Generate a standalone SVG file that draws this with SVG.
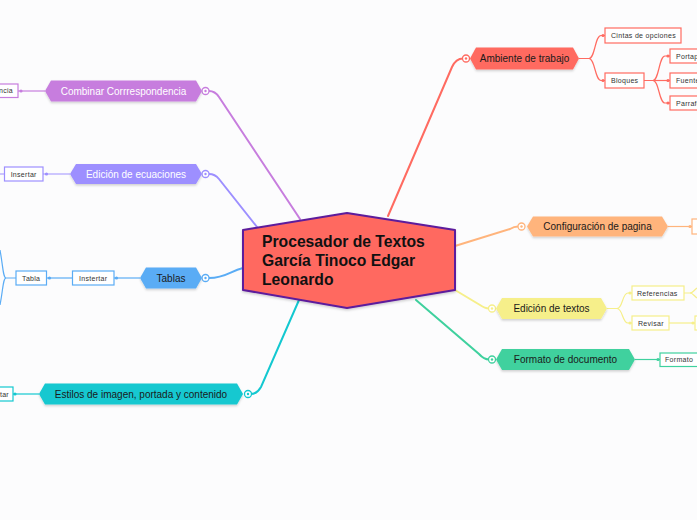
<svg xmlns="http://www.w3.org/2000/svg" width="697" height="520" viewBox="0 0 697 520">
<defs>
<filter id="sh" x="-20%" y="-40%" width="140%" height="180%"><feDropShadow dx="0" dy="1.5" stdDeviation="1.2" flood-color="#000" flood-opacity="0.18"/></filter>
<style>
text{font-family:"Liberation Sans","DejaVu Sans",sans-serif}
.mt{font-size:10px;text-anchor:middle;dominant-baseline:central;fill:#1a1a1a}
.wt{fill:#ffffff}
.st{font-size:7px;fill:#333;dominant-baseline:central;letter-spacing:0.3px}
.e{fill:none;stroke-width:2;stroke-linecap:round}
.e1{fill:none;stroke-width:1.2}
.b{fill:#fff;stroke-width:1.2}
.cr{fill:#fff;stroke-width:1.3}
</style>
</defs>
<rect width="697" height="520" fill="#fcfcfd"/>
<g id="connectors">
<path class="e" stroke="#ff6b61" d="M388,216 L452,67 Q456,58.5 463,58.5"/>
<path class="e" stroke="#ffb47c" d="M455,246 L510,229 Q514,226.5 518,226.5"/>
<path class="e" stroke="#f6ef8a" d="M455,290 L480,305 Q485,308.5 489,308.5"/>
<path class="e" stroke="#3fd19e" d="M416,300 L479,354 Q484,359.5 489,359.5"/>
<path class="e" stroke="#c77dde" d="M209,91 Q215,91 219,97 L300,219"/>
<path class="e" stroke="#9d8fff" d="M209,174 Q215,174 219,179 L257,227"/>
<path class="e" stroke="#5aacf5" d="M209,278 C226,278 230,271 243,268"/>
<path class="e" stroke="#13c8d0" d="M251,394 Q257,394 261,387 L306,284"/>
<g stroke="#ff6b61">
<path class="e1" d="M579,58.5 H589 C595,58.5 595,35.5 601,35.5 H605"/>
<path class="e1" d="M589,58.5 C595,58.5 595,80.5 601,80.5 H605"/>
<path class="e1" d="M644,80.5 H653 C659,80.5 659,56 665,56 H670"/>
<path class="e1" d="M653,80.5 H670"/>
<path class="e1" d="M653,80.5 C659,80.5 659,103 665,103 H670"/>
</g>
<path class="e1" stroke="#ffb47c" d="M668,226.5 H692"/>
<g stroke="#f6ef8a">
<path class="e1" d="M607,308.5 H617 C623,308.5 622,293 628,293 H632"/>
<path class="e1" d="M617,308.5 C623,308.5 622,323 628,323 H632"/>
<path class="e1" d="M684,293 H690 C693,293 694,290 697,288"/>
<path class="e1" d="M690,293 C693,293 694,296 697,298"/>
<path class="e1" d="M669,323 H695"/>
</g>
<path class="e1" stroke="#3fd19e" d="M635,359.5 H660"/>
<path class="e1" stroke="#c77dde" d="M45,91 H18"/>
<path class="e1" stroke="#9d8fff" d="M70,174 H43 M4,174 H-2"/>
<g stroke="#5aacf5">
<path class="e1" d="M140,278 H114"/>
<path class="e1" d="M72,278 H47"/>
<path class="e1" d="M16,278 H6 C3,278 3,266 0,250"/>
<path class="e1" d="M6,278 C3,278 3,290 0,305"/>
</g>
<path class="e1" stroke="#13c8d0" d="M39,394 H13"/>
<g fill="#ff6b61"><circle cx="603" cy="35.5" r="1.6"/><circle cx="603" cy="80.5" r="1.6"/><circle cx="668" cy="56" r="1.6"/><circle cx="668" cy="80.5" r="1.6"/><circle cx="668" cy="103" r="1.6"/></g>
<circle cx="690" cy="226.5" r="1.6" fill="#ffb47c"/>
<g fill="#f6ef8a"><circle cx="630" cy="293" r="1.6"/><circle cx="630" cy="323" r="1.6"/><circle cx="693" cy="323" r="1.6"/></g>
<circle cx="658" cy="359.5" r="1.6" fill="#3fd19e"/>
<circle cx="21" cy="91" r="1.6" fill="#c77dde"/>
<circle cx="46.5" cy="174" r="1.6" fill="#9d8fff"/>
<circle cx="116.5" cy="278" r="1.6" fill="#5aacf5"/>
<circle cx="49.5" cy="278" r="1.6" fill="#5aacf5"/>
<circle cx="15" cy="394" r="1.6" fill="#13c8d0"/>
<g><circle class="cr" stroke="#ff6b61" cx="466" cy="58.5" r="3.5"/><circle cx="466" cy="58.5" r="1.2" fill="#ff6b61"/></g>
<g><circle class="cr" stroke="#ffb47c" cx="521.5" cy="226.5" r="3.5"/><circle cx="521.5" cy="226.5" r="1.2" fill="#ffb47c"/></g>
<g><circle class="cr" stroke="#f6ef8a" cx="492" cy="308.5" r="3.5"/><circle cx="492" cy="308.5" r="1.2" fill="#f6ef8a"/></g>
<g><circle class="cr" stroke="#3fd19e" cx="492" cy="359.5" r="3.5"/><circle cx="492" cy="359.5" r="1.2" fill="#3fd19e"/></g>
<g><circle class="cr" stroke="#c77dde" cx="205.5" cy="91" r="3.5"/><circle cx="205.5" cy="91" r="1.2" fill="#c77dde"/></g>
<g><circle class="cr" stroke="#9d8fff" cx="205.5" cy="174" r="3.5"/><circle cx="205.5" cy="174" r="1.2" fill="#9d8fff"/></g>
<g><circle class="cr" stroke="#5aacf5" cx="205.5" cy="278" r="3.5"/><circle cx="205.5" cy="278" r="1.2" fill="#5aacf5"/></g>
<g><circle class="cr" stroke="#13c8d0" cx="248" cy="394" r="3.5"/><circle cx="248" cy="394" r="1.2" fill="#13c8d0"/></g>
</g>

<g id="central">
<path d="M243,230 L347,213 L455,230 L455,290 L347,308 L243,290 Z" fill="#ff6961" stroke="#5d1c9c" stroke-width="2" stroke-linejoin="round" filter="url(#sh)"/>
<text font-size="15.7" font-weight="bold" fill="#111"><tspan x="262" y="247">Procesador de Textos</tspan><tspan x="262" y="266">García Tinoco Edgar</tspan><tspan x="262" y="285">Leonardo</tspan></text>
</g>

<g id="ambiente">
<path d="M470,58.5 L476,47.5 L573,47.5 L579,58.5 L573,69.5 L476,69.5 Z" fill="#ff6b61" filter="url(#sh)"/>
<text class="mt" x="524.5" y="58.5">Ambiente de trabajo</text>
</g>
<g id="cintas"><rect class="b" stroke="#ff6b61" x="605" y="28" width="76" height="15"/><text class="st" x="611" y="35.5">Cintas de opciones</text></g>
<g id="bloques"><rect class="b" stroke="#ff6b61" x="605" y="73" width="39" height="15"/><text class="st" x="611" y="80.5">Bloques</text></g>
<g id="portapapeles"><rect class="b" stroke="#ff6b61" x="670" y="49" width="60" height="14"/><text class="st" x="676" y="56">Portapapeles</text></g>
<g id="fuente"><rect class="b" stroke="#ff6b61" x="670" y="73" width="60" height="15"/><text class="st" x="676" y="80.5">Fuente</text></g>
<g id="parrafo"><rect class="b" stroke="#ff6b61" x="670" y="96" width="60" height="14"/><text class="st" x="676" y="103">Parrafo</text></g>

<g id="configuracion">
<path d="M527,226.5 L533,216.5 L662,216.5 L668,226.5 L662,236.5 L533,236.5 Z" fill="#ffb47c" filter="url(#sh)"/>
<text class="mt" x="597.5" y="226.5">Configuración de pagina</text>
</g>
<g id="config-child"><rect class="b" stroke="#ffb47c" x="692" y="219" width="40" height="15"/></g>

<g id="edicion-textos">
<path d="M496,308.5 L502,298 L601,298 L607,308.5 L601,319 L502,319 Z" fill="#f6ef8a" filter="url(#sh)"/>
<text class="mt" x="551.5" y="308.5">Edición de textos</text>
</g>
<g id="referencias"><rect class="b" stroke="#f6ef8a" x="632" y="286" width="52" height="14"/><text class="st" x="637" y="293">Referencias</text></g>
<g id="revisar"><rect class="b" stroke="#f6ef8a" x="632" y="316" width="37" height="14"/><text class="st" x="638" y="323">Revisar</text></g>
<g id="revisar-child"><rect class="b" stroke="#f6ef8a" x="695" y="316" width="40" height="14"/></g>

<g id="formato-documento">
<path d="M496,359.5 L502,349 L629,349 L635,359.5 L629,370 L502,370 Z" fill="#3fd19e" filter="url(#sh)"/>
<text class="mt" x="565.5" y="359.5">Formato de documento</text>
</g>
<g id="formato"><rect class="b" stroke="#3fd19e" x="660" y="353" width="45" height="13.5"/><text class="st" x="665" y="359.5">Formato</text></g>

<g id="combinar">
<path d="M45,91 L51,80.5 L196,80.5 L202,91 L196,101.5 L51,101.5 Z" fill="#c77dde" filter="url(#sh)"/>
<text class="mt wt" x="123.5" y="91">Combinar Corrrespondencia</text>
</g>
<g id="correspondencia"><rect class="b" stroke="#c77dde" x="-60" y="84" width="78" height="13.5"/><text class="st" x="13" y="90.8" text-anchor="end">Correspondencia</text></g>

<g id="ecuaciones">
<path d="M70,174 L76,164 L196,164 L202,174 L196,184 L76,184 Z" fill="#9d8fff" filter="url(#sh)"/>
<text class="mt wt" x="136" y="174">Edición de ecuaciones</text>
</g>
<g id="insertar-ec"><rect class="b" stroke="#9d8fff" x="4.5" y="167" width="38.5" height="14"/><text class="st" x="23.7" y="174" text-anchor="middle">Insertar</text></g>

<g id="tablas">
<path d="M140,278 L146,267.5 L196,267.5 L202,278 L196,288.5 L146,288.5 Z" fill="#5aacf5" filter="url(#sh)"/>
<text class="mt" x="171" y="278">Tablas</text>
</g>
<g id="insertar-tab"><rect class="b" stroke="#5aacf5" x="72.5" y="271" width="41.5" height="14"/><text class="st" x="93.2" y="278" text-anchor="middle">Instertar</text></g>
<g id="tabla"><rect class="b" stroke="#5aacf5" x="16" y="271" width="30.5" height="14"/><text class="st" x="31.2" y="278" text-anchor="middle">Tabla</text></g>

<g id="estilos">
<path d="M39,394 L45,383.5 L237,383.5 L243,394 L237,404.5 L45,404.5 Z" fill="#13c8d0" filter="url(#sh)"/>
<text class="mt" x="141" y="394">Estilos de imagen, portada y contenido</text>
</g>
<g id="insertar-est"><rect class="b" stroke="#13c8d0" x="-40" y="387" width="53" height="14"/><text class="st" x="9" y="394" text-anchor="end">Insertar</text></g>
</svg>
